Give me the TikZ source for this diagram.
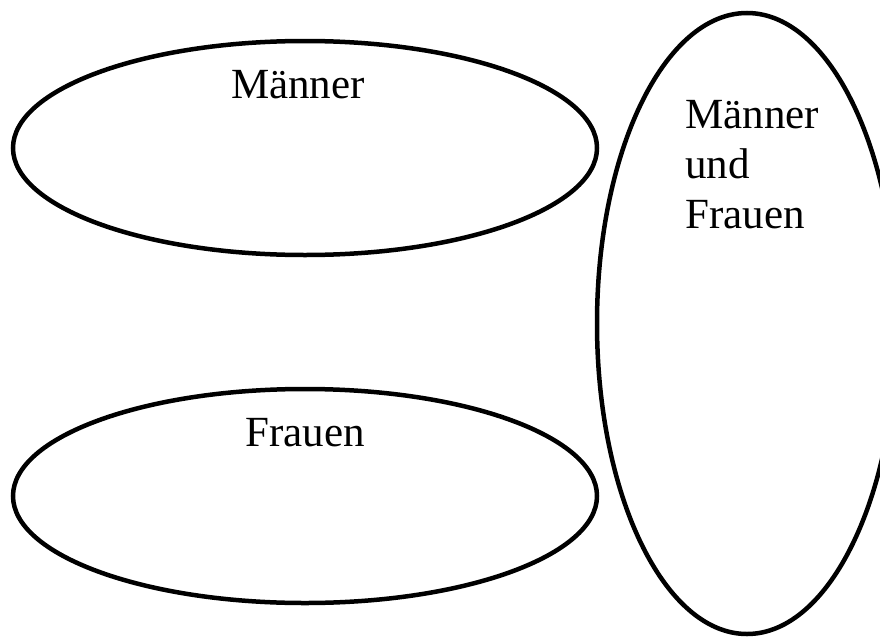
\documentclass[tikz,border=0pt]{standalone}
\usepackage{fontspec}
\setmainfont{Liberation Serif}
\usetikzlibrary{shapes.geometric}
\begin{document}
\begin{tikzpicture}[x=1pt,y=-1pt,
  oval/.style={draw=black,line width=4.5pt,ellipse,inner sep=0pt},
  lbl/.style={font=\fontsize{43}{50}\selectfont,inner sep=0pt}]
\useasboundingbox (0,0) rectangle (880,637);
\node[oval,minimum width=584pt,minimum height=214pt] (m) at (305,148) {};
\node[oval,minimum width=584pt,minimum height=214pt] (f) at (305,496) {};
\node[oval,minimum width=300pt,minimum height=621pt] (mf) at (747,323.5) {};
\node[lbl,anchor=base] (tm) at (298,98) {Männer};
\node[lbl,anchor=base] (tf) at (305,446) {Frauen};
\node[lbl,anchor=base west,align=left] (tmf) at (685,228) {Männer\\und\\Frauen};
\end{tikzpicture}
\end{document}
